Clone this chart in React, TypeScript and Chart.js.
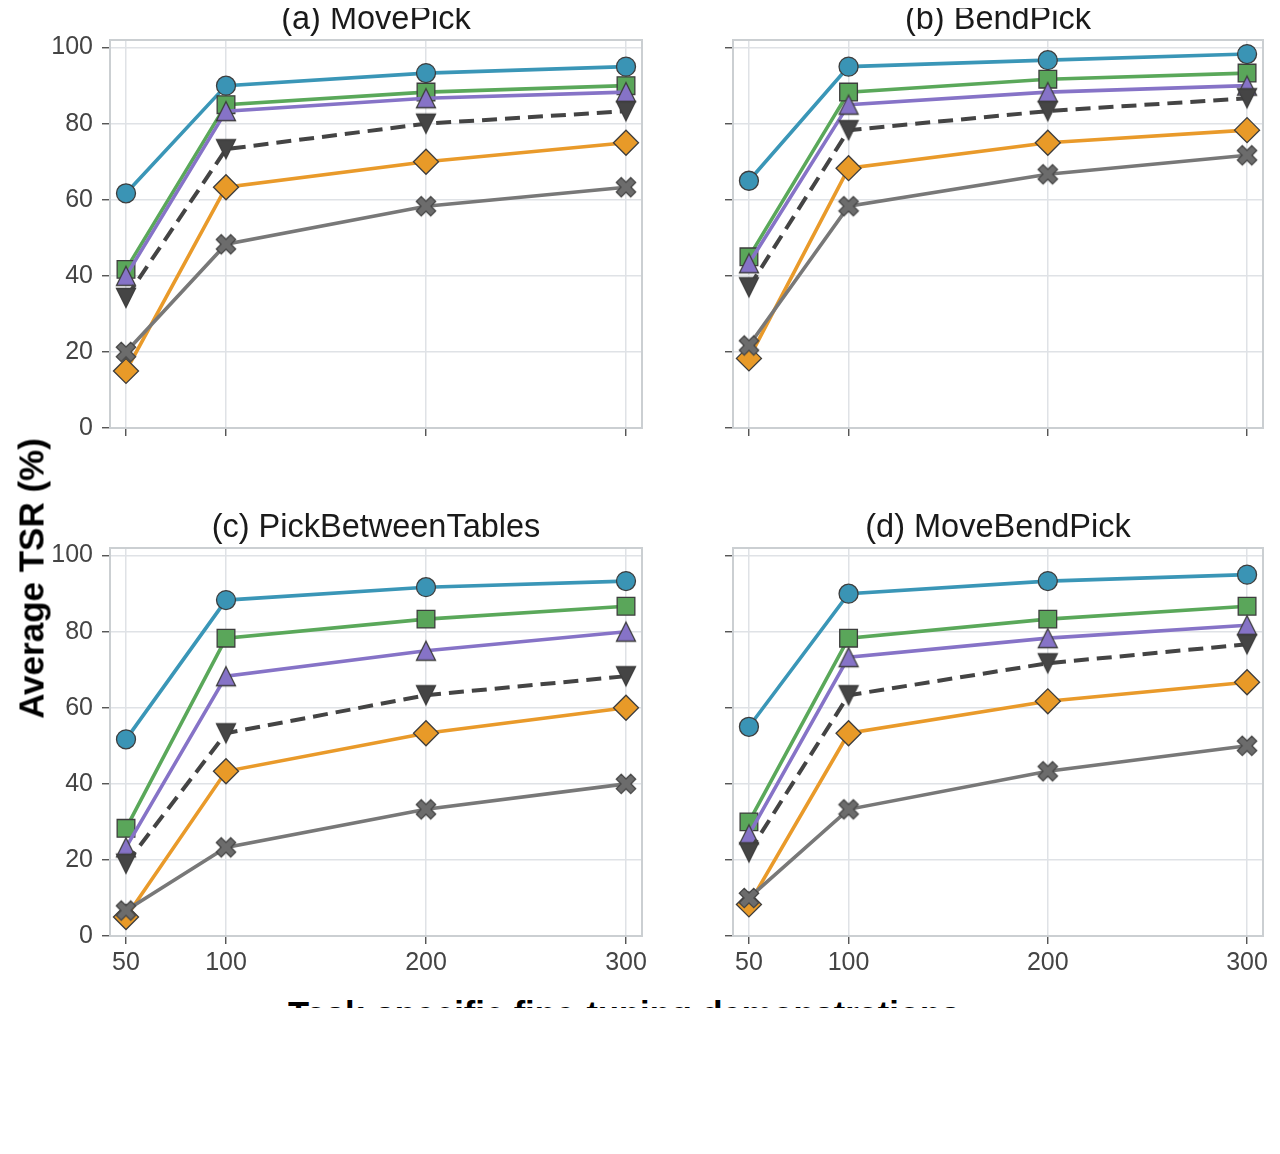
import React, { useEffect, useRef } from 'react';
import { Chart, registerables } from 'chart.js';

Chart.register(...registerables);

// ---------------- data ----------------
const xValues = [50, 100, 200, 300];
const xTicks = [50, 100, 200, 300];
const yTicks = [0, 20, 40, 60, 80, 100];

const panelTitles = ['(a) MovePick', '(b) BendPick', '(c) PickBetweenTables', '(d) MoveBendPick'];
const seriesNames = ['Method 1', 'Method 2', 'Method 3', 'Method 4', 'Method 5', 'Method 6'];

// (a) MovePick
const movePick1 = [61.7, 90, 93.3, 95];
const movePick2 = [41.7, 85, 88.3, 90];
const movePick3 = [40, 83.3, 86.7, 88.3];
const movePick4 = [34.2, 73.3, 80, 83.3];
const movePick5 = [15, 63.3, 70, 75];
const movePick6 = [20, 48.3, 58.3, 63.3];

// (b) BendPick
const bendPick1 = [65, 95, 96.7, 98.3];
const bendPick2 = [45, 88.3, 91.7, 93.3];
const bendPick3 = [43.3, 85, 88.3, 90];
const bendPick4 = [37, 78.3, 83.3, 86.7];
const bendPick5 = [18.3, 68.3, 75, 78.3];
const bendPick6 = [21.7, 58.3, 66.7, 71.7];

// (c) PickBetweenTables
const pbt1 = [51.7, 88.3, 91.7, 93.3];
const pbt2 = [28.3, 78.3, 83.3, 86.7];
const pbt3 = [23.3, 68.3, 75, 80];
const pbt4 = [19, 53.3, 63.3, 68.3];
const pbt5 = [5, 43.3, 53.3, 60];
const pbt6 = [6.7, 23.3, 33.3, 40];

// (d) MoveBendPick
const mbp1 = [55, 90, 93.3, 95];
const mbp2 = [30, 78.3, 83.3, 86.7];
const mbp3 = [26.7, 73.3, 78.3, 81.7];
const mbp4 = [22, 63.3, 71.7, 76.7];
const mbp5 = [8.3, 53.3, 61.7, 66.7];
const mbp6 = [10, 33.3, 43.3, 50];

const panelData = [
  [movePick1, movePick2, movePick3, movePick4, movePick5, movePick6],
  [bendPick1, bendPick2, bendPick3, bendPick4, bendPick5, bendPick6],
  [pbt1, pbt2, pbt3, pbt4, pbt5, pbt6],
  [mbp1, mbp2, mbp3, mbp4, mbp5, mbp6],
];

const xAxisTitle = 'Task-specific fine-tuning demonstrations';
const yAxisTitle = 'Average TSR (%)';

// ---------------- styles ----------------
const FONT = '"Liberation Sans", Arial, Helvetica, sans-serif';
const lineColors = ['#3a96b7', '#5aa85a', '#8673c7', '#444444', '#e99a2a', '#787878'];
const markerFills = ['#3a94b5', '#5aa65a', '#8673c7', '#454545', '#e89a28', '#6c6c6c'];
const markerEdge = '#3d3d3d';

// page-coordinate chart areas
const areas = [
  { left: 110, right: 642, top: 40, bottom: 428 },
  { left: 733, right: 1263, top: 40, bottom: 428 },
  { left: 110, right: 642, top: 548, bottom: 936 },
  { left: 733, right: 1263, top: 548, bottom: 936 },
];
const OX = 8;
const OY = 8;

function polyMarker(pts: [number, number][], size: number, fill: string, edge: string): HTMLCanvasElement {
  const c = document.createElement('canvas');
  c.width = size;
  c.height = size;
  const ctx = c.getContext('2d')!;
  const cx = size / 2, cy = size / 2;
  ctx.beginPath();
  pts.forEach(([px, py], i) => {
    if (i === 0) ctx.moveTo(cx + px, cy + py); else ctx.lineTo(cx + px, cy + py);
  });
  ctx.closePath();
  ctx.fillStyle = fill;
  ctx.fill();
  ctx.lineWidth = 1.3;
  ctx.strokeStyle = edge;
  ctx.lineJoin = 'miter';
  ctx.stroke();
  return c;
}

function makeXMarker(): HTMLCanvasElement {
  const a = 10.2, t = 3.5;
  const base: [number, number][] = [
    [t, t], [t, a], [-t, a], [-t, t], [-a, t], [-a, -t],
    [-t, -t], [-t, -a], [t, -a], [t, -t], [a, -t], [a, t],
  ];
  const r = Math.PI / 4;
  const pts = base.map(([px, py]) => [px * Math.cos(r) - py * Math.sin(r), px * Math.sin(r) + py * Math.cos(r)] as [number, number]);
  return polyMarker(pts, 28, markerFills[5], '#474747');
}

function makeTriangle(up: boolean, fill: string): HTMLCanvasElement {
  const s = 9.5;
  const pts: [number, number][] = up
    ? [[0, -s], [s, s], [-s, s]]
    : [[0, s], [s, -s], [-s, -s]];
  return polyMarker(pts, 26, fill, markerEdge);
}

const framePlugin = {
  id: 'frame',
  beforeDatasetsDraw(chart: any) {
    const { ctx, chartArea } = chart;
    ctx.save();
    ctx.strokeStyle = '#cbcfd2';
    ctx.lineWidth = 2;
    ctx.strokeRect(chartArea.left, chartArea.top, chartArea.right - chartArea.left, chartArea.bottom - chartArea.top);
    ctx.restore();
  },
};

interface PanelProps {
  idx: number;
  showX: boolean;
  showY: boolean;
}

function zeroPadding(axis: any) {
  axis.paddingTop = 0;
  axis.paddingBottom = 0;
  axis.paddingLeft = 0;
  axis.paddingRight = 0;
}

function Panel({ idx, showX, showY }: PanelProps) {
  const ref = useRef<HTMLCanvasElement | null>(null);
  const area = areas[idx];
  const yAxisW = 70;
  const padTop = 15;
  const padRight = 15;
  const xAxisH = showX ? 50 : 20;
  const w = yAxisW + (area.right - area.left) + padRight;
  const h = padTop + (area.bottom - area.top) + xAxisH;

  useEffect(() => {
    if (!ref.current) return;
    const styles = [
      { pointStyle: 'circle' as any, radius: 9.5 },
      { pointStyle: 'rect' as any, radius: 12.5 },
      { pointStyle: makeTriangle(true, markerFills[2]) as any, radius: 10 },
      { pointStyle: makeTriangle(false, markerFills[3]) as any, radius: 10 },
      { pointStyle: 'rectRot' as any, radius: 12.5 },
      { pointStyle: makeXMarker() as any, radius: 10.5 },
    ];
    const datasets = panelData[idx].map((vals, si) => ({
      label: seriesNames[si],
      data: xValues.map((x, i) => ({ x, y: vals[i] })),
      borderColor: lineColors[si],
      borderWidth: si === 3 ? 4 : 3.6,
      borderDash: si === 3 ? [15, 8] : [],
      borderCapStyle: 'butt' as const,
      pointStyle: styles[si].pointStyle,
      pointRadius: styles[si].radius,
      pointBackgroundColor: markerFills[si],
      pointBorderColor: markerEdge,
      pointBorderWidth: 1.3,
      tension: 0,
      clip: false as any,
      order: 5 - si,
    }));

    const chart = new Chart(ref.current, {
      type: 'line',
      data: { datasets },
      options: {
        animation: false,
        responsive: false,
        devicePixelRatio: 1,
        layout: { padding: { top: padTop, right: padRight, left: 0, bottom: 0 } },
        plugins: { legend: { display: false }, tooltip: { enabled: false }, title: { display: false } },
        scales: {
          x: {
            type: 'linear',
            min: 42,
            max: 308,
            afterBuildTicks: (axis: any) => { axis.ticks = xTicks.map((v) => ({ value: v })); },
            afterFit: (axis: any) => { axis.height = xAxisH; zeroPadding(axis); },
            grid: { color: '#dfe2e6', lineWidth: 1.5, tickColor: '#444', tickLength: 8, tickWidth: 1.3 },
            border: { display: false },
            ticks: {
              display: true,
              autoSkip: false,
              maxRotation: 0,
              padding: 4,
              color: '#444',
              font: { family: FONT, size: 25 },
              callback: (v: any) => (showX ? String(v) : ''),
            },
          },
          y: {
            type: 'linear',
            min: 0,
            max: 102,
            afterBuildTicks: (axis: any) => { axis.ticks = yTicks.map((v) => ({ value: v })); },
            afterFit: (axis: any) => { axis.width = yAxisW; zeroPadding(axis); },
            grid: { color: '#dfe2e6', lineWidth: 1.5, tickColor: '#444', tickLength: 8, tickWidth: 1.3 },
            border: { display: false },
            ticks: {
              display: true,
              autoSkip: false,
              padding: 9,
              color: '#444',
              font: { family: FONT, size: 25 },
              callback: (v: any) => (showY ? String(v) : ''),
            },
          },
        },
      },
      plugins: [framePlugin],
    });
    return () => chart.destroy();
  }, [idx, showX, showY]);

  return (
    <canvas
      ref={ref}
      width={w}
      height={h}
      style={{
        position: 'absolute',
        left: area.left - yAxisW - OX,
        top: area.top - padTop - OY,
        width: w,
        height: h,
      }}
    />
  );
}

function Title({ idx }: { idx: number }) {
  const area = areas[idx];
  const baseline = idx < 2 ? 29.5 : 537.5;
  const size = 32.5;
  const top = baseline - (size * 0.905 - (size * 1.117 - size) / 2);
  return (
    <div
      style={{
        position: 'absolute',
        left: area.left - OX,
        width: area.right - area.left,
        top: top - OY,
        height: size,
        lineHeight: `${size}px`,
        fontSize: size,
        fontFamily: FONT,
        color: '#1a1a1a',
        textAlign: 'center',
        whiteSpace: 'nowrap',
      }}
    >
      {panelTitles[idx]}
    </div>
  );
}

export default function App() {
  const ySize = 35;
  const yBaselineX = 43;
  const yBaseOff = ySize * 0.905 - (ySize * 1.117 - ySize) / 2;
  const yCx = yBaselineX - yBaseOff + ySize / 2;
  const yCy = 578.5;
  const yW = 320;
  const xSize = 34.5;
  return (
    <div style={{ position: 'relative', width: 1264, height: 1138, background: '#fff' }}>
      <Panel idx={0} showX={false} showY={true} />
      <Panel idx={1} showX={false} showY={false} />
      <Panel idx={2} showX={true} showY={true} />
      <Panel idx={3} showX={true} showY={false} />
      <Title idx={0} />
      <Title idx={1} />
      <Title idx={2} />
      <Title idx={3} />
      <div
        style={{
          position: 'absolute',
          left: yCx - yW / 2 - OX,
          top: yCy - ySize / 2 - OY,
          width: yW,
          height: ySize,
          lineHeight: `${ySize}px`,
          fontSize: ySize,
          fontWeight: 'bold',
          fontFamily: FONT,
          color: '#000',
          textAlign: 'center',
          whiteSpace: 'nowrap',
          transform: 'rotate(-90deg)',
          transformOrigin: '50% 50%',
        }}
      >
        {yAxisTitle}
      </div>
      <div
        style={{
          position: 'absolute',
          left: 288 - OX,
          top: 990 - OY,
          width: 800,
          height: 17.5,
          overflow: 'hidden',
        }}
      >
        <div
          style={{
            position: 'absolute',
            left: 0,
            top: 7.3,
            lineHeight: `${xSize}px`,
            fontSize: xSize,
            fontWeight: 'bold',
            fontFamily: FONT,
            color: '#000',
            whiteSpace: 'nowrap',
          }}
        >
          {xAxisTitle}
        </div>
      </div>
    </div>
  );
}
